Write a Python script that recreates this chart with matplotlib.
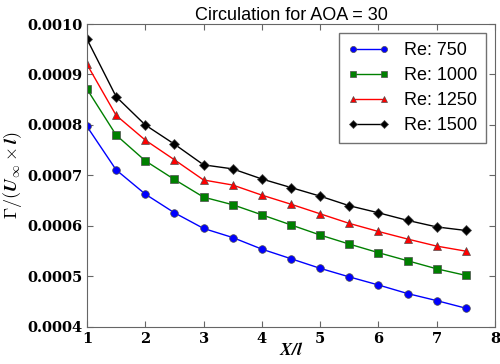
import matplotlib
matplotlib.use("Agg")
import matplotlib.pyplot as plt
from matplotlib.ticker import FuncFormatter

# data
x_pos = [1, 1.5, 2, 2.5, 3, 3.5, 4, 4.5, 5, 5.5, 6, 6.5, 7, 7.5]
re750 = [0.000797, 0.000711, 0.000663, 0.000626, 0.000595, 0.000577, 0.000554,
         0.000535, 0.000516, 0.000499, 0.000483, 0.000466, 0.000452, 0.000437]
re1000 = [0.000871, 0.000780, 0.000729, 0.000692, 0.000657, 0.000642, 0.000622,
          0.000602, 0.000582, 0.000564, 0.000547, 0.000531, 0.000515, 0.000502]
re1250 = [0.000920, 0.000819, 0.000770, 0.000731, 0.000691, 0.000681, 0.000661,
          0.000643, 0.000624, 0.000605, 0.000589, 0.000574, 0.000560, 0.000550]
re1500 = [0.000970, 0.000856, 0.000800, 0.000762, 0.000721, 0.000713, 0.000693,
          0.000676, 0.000659, 0.000640, 0.000626, 0.000611, 0.000598, 0.000591]
labels = ['Re: 750', 'Re: 1000', 'Re: 1250', 'Re: 1500']

plt.rcParams['mathtext.fontset'] = 'cm'
plt.rcParams['font.family'] = ['Liberation Sans', 'DejaVu Sans']

fig = plt.figure(figsize=(5.0, 3.64), dpi=100)
ax = fig.add_axes([0.174, 0.102, 0.816, 0.832])

styles = [('b', 'o'), ('g', 's'), ('r', '^'), ('k', 'D')]
for ys, lab, (c, m) in zip([re750, re1000, re1250, re1500], labels, styles):
    ax.plot(x_pos, ys, color=c, marker=m, markersize=5.5, linewidth=1,
            markeredgecolor='0.3', markeredgewidth=0.5, label=lab)

ax.set_xlim(1, 8)
ax.set_ylim(0.0004, 0.0010)
ax.set_yticks([0.0004, 0.0005, 0.0006, 0.0007, 0.0008, 0.0009, 0.0010])

ax.xaxis.set_major_formatter(FuncFormatter(lambda v, p: '%d' % v))
ax.yaxis.set_major_formatter(FuncFormatter(lambda v, p: '%.4f' % v))
ax.tick_params(direction='in', top=True, right=True, length=4, color='0.4')
for lbl in ax.get_xticklabels() + ax.get_yticklabels():
    lbl.set_family('DejaVu Serif')
    lbl.set_weight('bold')
    lbl.set_size(10.5)
for s in ax.spines.values():
    s.set_color('0.4')

ax.set_xlabel(r'$\mathbfit{X/l}$', fontsize=13, labelpad=-3)
ax.set_ylabel(r'$\mathbf{\Gamma}/(\mathbfit{U}_{\infty}\times \mathbfit{l})$',
              fontsize=13, labelpad=2)
ax.set_title('Circulation for AOA = 30', fontsize=13, pad=3)

leg = ax.legend(loc='upper right', fontsize=13, numpoints=2, fancybox=False,
                borderaxespad=0.5, handlelength=2.3, labelspacing=0.45,
                borderpad=0.5, markerscale=0.8)
leg.get_frame().set_edgecolor('0.3')

fig.savefig('out.png', dpi=100)
